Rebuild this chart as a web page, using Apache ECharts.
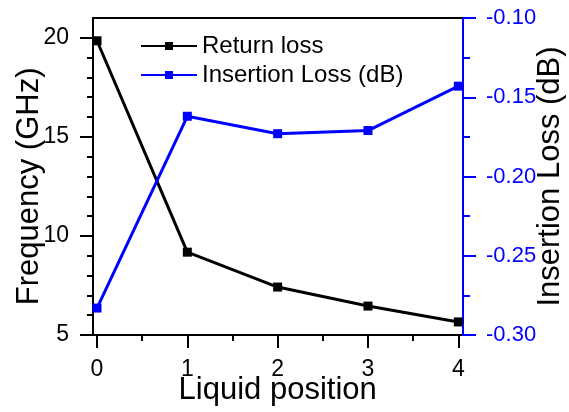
<!DOCTYPE html>
<html>
<head>
<meta charset="utf-8">
<script src="https://cdn.jsdelivr.net/npm/echarts@6/dist/echarts.min.js"></script>
<style>
  html, body { margin: 0; padding: 0; background: #fff; }
  #main { width: 569px; height: 412px; }
</style>
</head>
<body>
<div id="main"></div>
<script>
var myChart = echarts.init(document.getElementById('main'));

// data
var positions = [0, 1, 2, 3, 4];
var returnLoss = [19.85, 9.18, 7.42, 6.46, 5.66];             // left axis, GHz
var insertionLoss = [-0.283, -0.162, -0.173, -0.171, -0.143];  // right axis, dB

function pairs(xs, ys) {
    return xs.map(function (x, i) { return [x, ys[i]]; });
}

var font = 'Liberation Sans';
var tickStyle = { color: '#000', width: 2 };
var blueTick = { color: '#0000ff', width: 2 };

var option = {
    animation: false,
    textStyle: { fontFamily: font },
    grid: [
        // frame + data
        { left: 93, right: 106, top: 18, bottom: 77, show: true, borderColor: '#000', borderWidth: 2,
          containLabel: false, outerBoundsMode: 'none' },
        // x ticks 0..4
        { left: 97, right: 110.7, top: 37.8, bottom: 77, containLabel: false, outerBoundsMode: 'none' },
        // left ticks 5..20
        { left: 93, right: 106, top: 37.8, bottom: 77, containLabel: false, outerBoundsMode: 'none' }
    ],
    legend: {
        left: 135,
        top: 29,
        orient: 'vertical',
        itemWidth: 56,
        itemHeight: 10,
        itemGap: 5,
        textStyle: { fontSize: 24, color: '#000', fontFamily: font },
        data: ['Return loss', 'Insertion Loss (dB)']
    },
    xAxis: [
        {
            gridIndex: 0,
            type: 'value',
            min: -0.0443,
            max: 4.052,
            show: false
        },
        {
            gridIndex: 1,
            type: 'value',
            position: 'bottom',
            min: 0,
            max: 4,
            interval: 1,
            splitLine: { show: false },
            axisLine: { show: false, onZero: false },
            axisTick: { length: 13, lineStyle: tickStyle },
            minorTick: { show: true, splitNumber: 2, length: 6, lineStyle: tickStyle },
            axisLabel: { fontSize: 23, color: '#000', margin: 23 },
            name: 'Liquid position',
            nameLocation: 'middle',
            nameGap: 40,
            nameMoveOverlap: false,
            nameTextStyle: { fontSize: 31, color: '#000' }
        },
        {
            gridIndex: 2,
            type: 'value',
            min: 0,
            max: 1,
            show: false
        }
    ],
    yAxis: [
        {
            // left scale used by the black series
            gridIndex: 0,
            type: 'value',
            min: 5,
            max: 21,
            show: false
        },
        {
            gridIndex: 0,
            type: 'value',
            position: 'right',
            min: -0.30,
            max: -0.10,
            interval: 0.05,
            splitLine: { show: false },
            axisLine: { onZero: false, lineStyle: { color: '#0000ff', width: 2 } },
            axisTick: { length: 13, lineStyle: blueTick },
            minorTick: { show: true, splitNumber: 2, length: 7, lineStyle: blueTick },
            axisLabel: {
                fontSize: 22, color: '#0000ff', margin: 23,
                formatter: function (v) { return v.toFixed(2); }
            },
            name: 'Insertion Loss (dB)',
            nameLocation: 'middle',
            nameRotate: 90,
            nameGap: 72,
            nameMoveOverlap: false,
            nameTextStyle: { fontSize: 31, color: '#000' }
        },
        {
            gridIndex: 1,
            type: 'value',
            min: 5,
            max: 20,
            show: false
        },
        {
            gridIndex: 2,
            type: 'value',
            position: 'left',
            min: 5,
            max: 20,
            interval: 5,
            splitLine: { show: false },
            axisLine: { show: false, onZero: false },
            axisTick: { length: 13, lineStyle: tickStyle },
            minorTick: { show: true, splitNumber: 5, length: 6, lineStyle: tickStyle },
            axisLabel: { fontSize: 23, color: '#000', margin: 24 },
            name: 'Frequency (GHz)',
            nameLocation: 'middle',
            nameRotate: 90,
            nameGap: 48,
            nameMoveOverlap: false,
            nameTextStyle: { fontSize: 31, color: '#000' }
        }
    ],
    series: [
        {
            name: 'Return loss',
            type: 'line',
            xAxisIndex: 0,
            yAxisIndex: 0,
            symbol: 'rect',
            symbolSize: 9,
            itemStyle: { color: '#000' },
            lineStyle: { color: '#000', width: 3 },
            data: pairs(positions, returnLoss)
        },
        {
            name: 'Insertion Loss (dB)',
            type: 'line',
            xAxisIndex: 0,
            yAxisIndex: 1,
            symbol: 'rect',
            symbolSize: 9,
            itemStyle: { color: '#0000ff' },
            lineStyle: { color: '#0000ff', width: 3 },
            data: pairs(positions, insertionLoss)
        }
    ]
};
myChart.setOption(option);
</script>
</body>
</html>
